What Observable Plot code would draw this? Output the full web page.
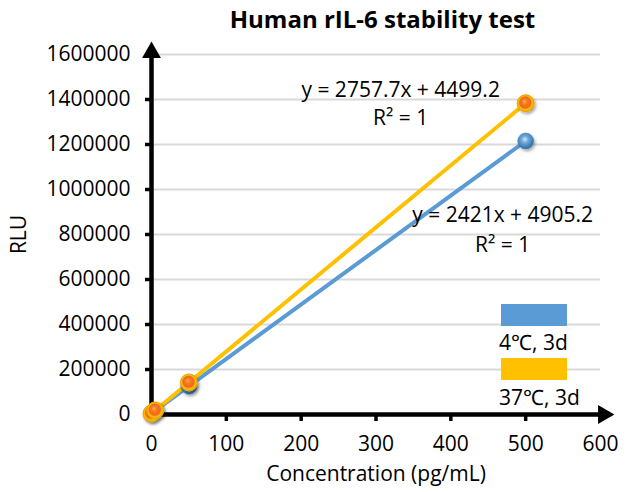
<!DOCTYPE html>
<html><head><meta charset="utf-8">
<script src="https://cdn.jsdelivr.net/npm/d3@7"></script>
<script src="https://cdn.jsdelivr.net/npm/@observablehq/plot@0.6"></script>
<style>
body{margin:0;background:#fff;font-family:"Open Sans",sans-serif;color:#000;}
#wrap{position:relative;width:628px;height:492px;overflow:hidden;}
#title{height:36px;line-height:38px;padding-left:158px;width:449px;text-align:center;font-weight:bold;font-size:24px;white-space:nowrap;}
.leg{position:absolute;left:499px;font-size:21px;line-height:28px;white-space:nowrap;}
.sw{position:absolute;left:501px;width:66px;height:22px;}
svg{display:block;overflow:visible;}
</style></head>
<body><div id="wrap"><div id="title">Human rIL-6 stability test</div><div id="chart"></div></div>
<script>
const concentrations = [0, 5, 50, 500];
const rlu4C = [4900, 17000, 126000, 1215400];
const rlu37C = [4500, 18300, 142400, 1383400];
const seriesNames = ["4℃, 3d", "37℃, 3d"];
const seriesColors = ["#5B9BD5", "#FFC000"];
const equations = ["y = 2421x + 4905.2", "y = 2757.7x + 4499.2"];
const rSquared = ["R² = 1", "R² = 1"];
const xTicks = [0, 100, 200, 300, 400, 500, 600];
const yTicks = [0, 200000, 400000, 600000, 800000, 1000000, 1200000, 1400000, 1600000];

const data = [
  ...concentrations.map((c, i) => ({x: c, y: rlu4C[i], s: seriesNames[0]})),
  ...concentrations.map((c, i) => ({x: c, y: rlu37C[i], s: seriesNames[1]}))
];
const s4 = data.filter(d => d.s === seriesNames[0]);
const s37 = data.filter(d => d.s === seriesNames[1]);
const last4 = [s4[s4.length - 1]];
const last37 = [s37[s37.length - 1]];

const defs = () => {
  const ns = "http://www.w3.org/2000/svg";
  const d = document.createElementNS(ns, "defs");
  d.innerHTML = `
  <radialGradient id="gBlue" cx="45%" cy="40%" r="60%">
    <stop offset="0%" stop-color="#d5e7f7"/>
    <stop offset="35%" stop-color="#6fa8dc"/>
    <stop offset="100%" stop-color="#2f6aa3"/>
  </radialGradient>
  <radialGradient id="gOrange" cx="50%" cy="50%" r="52%" fx="42%" fy="38%">
    <stop offset="0%" stop-color="#fbb040"/>
    <stop offset="30%" stop-color="#f47b20"/>
    <stop offset="62%" stop-color="#f26522"/>
    <stop offset="78%" stop-color="#ffc000"/>
    <stop offset="100%" stop-color="#d89e00"/>
  </radialGradient>
  <filter id="shadow" x="-50%" y="-50%" width="200%" height="200%">
    <feDropShadow dx="1.5" dy="2" stdDeviation="1.5" flood-color="#000" flood-opacity="0.35"/>
  </filter>`;
  return d;
};

const fs = 21;
const chart = Plot.plot({
  width: 628,
  height: 456,
  marginTop: 18,
  marginBottom: 78,
  marginLeft: 151,
  marginRight: 28,
  style: {fontFamily: "'Open Sans', sans-serif", fontSize: fs + "px", color: "#000", background: "#fff"},
  x: {domain: [0, 600], axis: null},
  y: {domain: [0, 1600000], axis: null},
  color: {domain: seriesNames, range: seriesColors},
  marks: [
    defs,
    Plot.gridY(yTicks.slice(1), {stroke: "#d9d9d9", strokeOpacity: 1, strokeWidth: 2}),
    Plot.axisY(yTicks, {tickSize: 6, tickPadding: 15, strokeWidth: 3.5, fontSize: fs, tickFormat: d => String(d),
      label: "RLU", labelAnchor: "center", labelOffset: 140, labelArrow: "none"}),
    Plot.axisX(xTicks, {tickSize: 7, tickPadding: 15, strokeWidth: 3.5, fontSize: fs, tickFormat: d => String(d),
      label: "Concentration (pg/mL)", labelAnchor: "center", labelOffset: 66, labelArrow: "none"}),
    Plot.ruleX([0], {strokeWidth: 4.5, y1: 0, y2: 1600000, stroke: "#000"}),
    Plot.ruleY([0], {strokeWidth: 4.5, x1: 0, x2: 600, stroke: "#000"}),
    Plot.dot([{x: 0, y: 1600000}], {x: "x", y: "y", symbol: "triangle", r: 7, fill: "#000", dy: -2}),
    Plot.dot([{x: 600, y: 0}], {x: "x", y: "y", symbol: "triangle", r: 7, fill: "#000", rotate: 90, dx: 3}),
    Plot.linearRegressionY(s4, {x: "x", y: "y", stroke: seriesColors[0], strokeWidth: 4, ci: 0}),
    Plot.linearRegressionY(s37, {x: "x", y: "y", stroke: seriesColors[1], strokeWidth: 4, ci: 0}),
    Plot.dot(s4, {x: "x", y: "y", r: 8, fill: "url(#gBlue)", stroke: "#3d7fc0", strokeWidth: 0.5}),
    Plot.dot(s37, {x: "x", y: "y", r: 8.5, fill: "url(#gOrange)", stroke: "#e8a800", strokeWidth: 1}),
    Plot.text(last37, {x: "x", y: "y", text: () => equations[1], dx: -125, dy: -13, fontSize: fs}),
    Plot.text(last37, {x: "x", y: "y", text: () => rSquared[1], dx: -125, dy: 15, fontSize: fs}),
    Plot.text(last4, {x: "x", y: "y", text: () => equations[0], dx: -23, dy: 74, fontSize: fs}),
    Plot.text(last4, {x: "x", y: "y", text: () => rSquared[0], dx: -23, dy: 104, fontSize: fs})
  ]
});
chart.querySelectorAll('g[fill^="url"]').forEach(g => g.setAttribute("filter", "url(#shadow)"));
document.getElementById("chart").appendChild(chart);

// legend (HTML, inside the plot area as in the original)
const wrap = document.getElementById("wrap");
const legTops = [304, 358];
seriesNames.forEach((n, i) => {
  const sw = document.createElement("div");
  sw.className = "sw"; sw.style.top = legTops[i] + "px"; sw.style.background = seriesColors[i];
  wrap.appendChild(sw);
  const t = document.createElement("div");
  t.className = "leg"; t.style.top = (legTops[i] + 24 + i) + "px"; t.textContent = n;
  wrap.appendChild(t);
});
</script>
</body></html>
